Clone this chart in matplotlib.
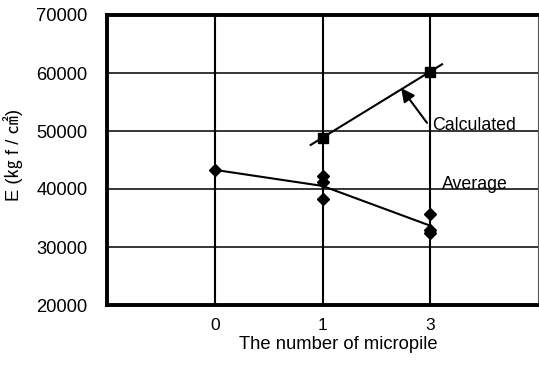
import numpy as np
import matplotlib
matplotlib.use("Agg")
import matplotlib.pyplot as plt

plt.rcParams['font.family'] = ['Liberation Sans', 'Noto Sans CJK KR', 'DejaVu Sans']

# categories on the x axis
categories = ['0', '1', '3']
cat_pos = [1, 2, 3]

# measured E for each test (kgf/cm2)
test_x = [1, 2, 2, 2, 3, 3, 3]
test_e = [43300, 42250, 41150, 38200, 35700, 32950, 32350]

# average line
avg_x = [1, 2, 3]
avg_e = [43300, 40530, 33670]

# calculated values
calc_x = [2, 3]
calc_e = [48850, 60250]

yticks = [20000, 30000, 40000, 50000, 60000, 70000]

fig = plt.figure(figsize=(5.39, 3.65), dpi=100)
ax = fig.add_axes([107 / 539, 60 / 365, 431 / 539, 290 / 365])

ax.set_xlim(0, 4)
ax.set_ylim(20000, 70000)
ax.set_xticks(cat_pos)
ax.set_xticklabels(categories)
ax.set_yticks(yticks)
ax.tick_params(length=0, labelsize=13.2)
ax.tick_params(axis='x', pad=9, labelsize=12.5)
ax.tick_params(axis='y', pad=14)

# grid
for y in yticks:
    ax.axhline(y, color='black', lw=1.1, zorder=1)
for x in cat_pos:
    ax.axvline(x, color='black', lw=1.5, zorder=1)

for s in ['left', 'top', 'bottom']:
    ax.spines[s].set_linewidth(2.8)
ax.spines['right'].set_linewidth(0.8)
ax.spines['right'].set_color('#555555')

# average line + points
ax.plot(avg_x, avg_e, color='black', lw=1.5, zorder=3)
ax.plot(test_x, test_e, 'D', color='black', ms=5.8, zorder=4)

# calculated line, drawn a bit past the points
ext = 0.11
slope = (calc_e[1] - calc_e[0]) / (calc_x[1] - calc_x[0])
lx = [calc_x[0] - ext, calc_x[1] + ext]
ly = [calc_e[0] - slope * ext, calc_e[1] + slope * ext]
ax.plot(lx, ly, color='black', lw=1.5, zorder=3)
ax.plot(calc_x, calc_e, 's', color='black', ms=7.8, zorder=4)

ax.annotate('', xy=(2.73, 57400), xytext=(2.97, 51400),
            arrowprops=dict(arrowstyle='-|>', color='black', lw=1.5,
                            mutation_scale=20, shrinkA=0, shrinkB=0))
ax.text(3.02, 50900, 'Calculated', fontsize=12.8, va='center', ha='left', zorder=5)
ax.text(3.11, 40700, 'Average', fontsize=12.8, va='center', ha='left', zorder=5)

fig.text(338 / 539, 1 - 349 / 365, 'The number of micropile', fontsize=13.2,
         ha='center', va='baseline')
fig.text(13 / 539, 1 - 155 / 365, 'E (㎏ f / ㎠)', rotation=90, fontsize=13.2,
         ha='center', va='center')

fig.savefig('out.png', dpi=100)
